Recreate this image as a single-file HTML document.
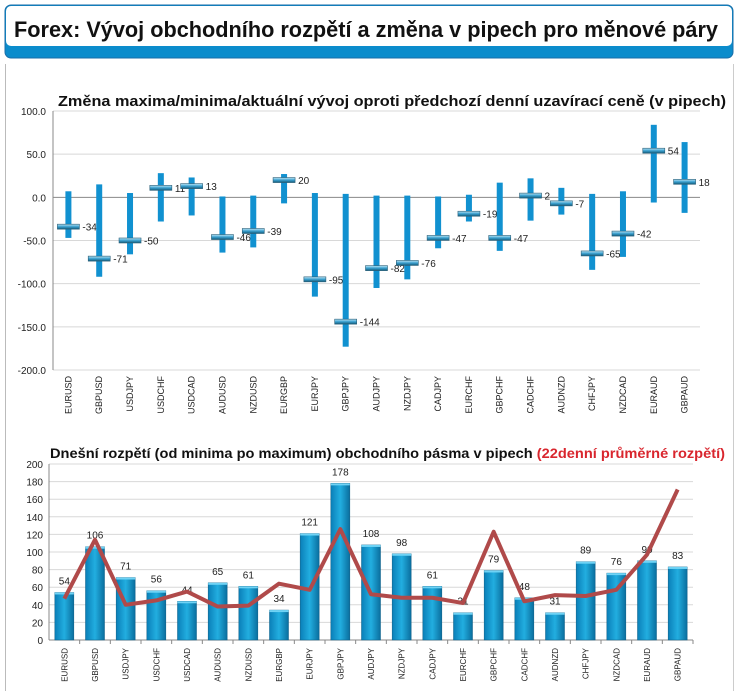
<!DOCTYPE html>
<html><head><meta charset="utf-8"><style>
body{margin:0;background:#fff;}
svg{display:block;font-family:"Liberation Sans",sans-serif;}
</style></head><body>
<svg id="c" width="736" height="691" viewBox="0 0 736 691">
<defs>
<linearGradient id="mk" x1="0" y1="0" x2="0" y2="1"><stop offset="0" stop-color="#bfe6f5"/><stop offset="0.5" stop-color="#3aa0cf"/><stop offset="1" stop-color="#145a78"/></linearGradient>
<linearGradient id="bg" x1="0" y1="0" x2="1" y2="0"><stop offset="0" stop-color="#0a7fb8"/><stop offset="0.5" stop-color="#22aee0"/><stop offset="1" stop-color="#0a6e9e"/></linearGradient>
</defs>
<g>
<rect x="5" y="5" width="728" height="53" rx="6" fill="#0b8ccc" stroke="#1a6ea8"/>
<rect x="6" y="6" width="726" height="40" rx="5" fill="#fff"/>
<text x="14" y="37" font-size="22" font-weight="bold" fill="#111" textLength="704" lengthAdjust="spacingAndGlyphs">Forex: Vývoj obchodního rozpětí a změna v pipech pro měnové páry</text>
</g>
<line x1="5.5" y1="64" x2="5.5" y2="691" stroke="#bbb"/>
<line x1="733.5" y1="64" x2="733.5" y2="691" stroke="#ccc"/>
<text x="58" y="106" font-size="14.5" font-weight="bold" fill="#111" textLength="668" lengthAdjust="spacingAndGlyphs">Změna maxima/minima/aktuální vývoj oproti předchozí denní uzavírací ceně (v pipech)</text>
<text x="50" y="458" font-size="14" font-weight="bold" fill="#111" textLength="675" lengthAdjust="spacingAndGlyphs">Dnešní rozpětí (od minima po maximum) obchodního pásma v pipech <tspan fill="#d9262e">(22denní průměrné rozpětí)</tspan></text>
<g id="top"></g>
<g id="bot"></g>
</svg>
<script>
const pairs=["EURUSD","GBPUSD","USDJPY","USDCHF","USDCAD","AUDUSD","NZDUSD","EURGBP","EURJPY","GBPJPY","AUDJPY","NZDJPY","CADJPY","EURCHF","GBPCHF","CADCHF","AUDNZD","CHFJPY","NZDCAD","EURAUD","GBPAUD"];
const highs=[7,15,5,28,23,1,2,27,5,4,2,2,1,3,17,22,11,4,7,84,64];
const lows=[-47,-92,-66,-28,-21,-64,-58,-7,-115,-173,-105,-95,-59,-28,-62,-27,-20,-84,-69,-6,-18];
const current=[-34,-71,-50,11,13,-46,-39,20,-95,-144,-82,-76,-47,-19,-47,2,-7,-65,-42,54,18];
const topTicks=[100,50,0,-50,-100,-150,-200];
const ranges=[54,106,71,56,44,65,61,34,121,178,108,98,61,31,79,48,31,89,76,90,83];
const avg22=[47,114,40,45,55,38,39,64,57,126,52,48,48,42,123,44,51,50,57,97,171];
const botTicks=[0,20,40,60,80,100,120,140,160,180,200];

const NS="http://www.w3.org/2000/svg";
function mk(p,tag,at,txt){const e=document.createElementNS(NS,tag);for(const k in at)e.setAttribute(k,at[k]);if(txt!==undefined)e.textContent=txt;p.appendChild(e);return e;}

// top chart
const T=document.getElementById('top');
const tL=53,tR=700,tTop=111,tBot=370;
const ty=v=>tTop+(100-v)*(tBot-tTop)/300;
const bw1=(tR-tL)/pairs.length;
const tx=i=>tL+bw1*(i+0.5);
topTicks.forEach(v=>{
 const g=mk(T,'line',{x1:tL,x2:tR,y1:ty(v),y2:ty(v),stroke:v===0?'#888':'#d8d8d8'});
 
 
 const t=mk(T,'text',{x:tL-7,y:ty(v)+4,'font-size':10,'text-anchor':'end',fill:'#222'},v.toFixed(1));
 
 
});
mk(T,'line',{x1:tL,x2:tL,y1:tTop,y2:tBot,stroke:'#888'});
pairs.forEach((p,i)=>{
 const x=tx(i);
 const r=mk(T,'rect',{x:x-3,y:ty(highs[i]),width:6,height:ty(lows[i])-ty(highs[i]),fill:'#1191d0'});
 
 
 const m=mk(T,'rect',{x:x-11,y:ty(current[i])-2.5,width:22,height:5,fill:'url(#mk)',stroke:'#2b5f78','stroke-width':0.6});
 
 
 const l=mk(T,'text',{x:x+14,y:ty(current[i])+4,'font-size':10,fill:'#222'},current[i]);
 
 
 const c=mk(T,'text',{x:0,y:0,'font-size':9,'text-anchor':'end',fill:'#222',transform:`translate(${x+3},376) rotate(-90)`},p);
 
 
});

// bottom chart
const B=document.getElementById('bot');
const bL=49,bR=693,bTop=464,bBot=640;
const by=v=>bBot-v*(bBot-bTop)/200;
const bw2=(bR-bL)/pairs.length;
const bx=i=>bL+bw2*(i+0.5);
botTicks.forEach(v=>{
 const g=mk(B,'line',{x1:bL,x2:bR,y1:by(v),y2:by(v),stroke:v===0?'#888':'#d8d8d8'});
 
 
 const t=mk(B,'text',{x:bL-6,y:by(v)+4,'font-size':10,'text-anchor':'end',fill:'#222'},v);
 
 
});
mk(B,'line',{x1:bL,x2:bL,y1:bTop,y2:bBot,stroke:'#888'});
pairs.forEach((p,i)=>{
 const x=bx(i);
 const r=mk(B,'rect',{x:x-9.5,y:by(ranges[i]),width:19,height:bBot-by(ranges[i]),fill:'url(#bg)',stroke:'#0a5c84','stroke-width':0.5});
 
 
 const cap=mk(B,'rect',{x:x-9.5,y:by(ranges[i]),width:19,height:2,fill:'#6fd3f5'});
 
 
 const l=mk(B,'text',{x:x,y:by(ranges[i])-8,'font-size':10,'text-anchor':'middle',fill:'#222'},ranges[i]);
 
 
 const tk=mk(B,'line',{x1:bL+bw2*(i+1),x2:bL+bw2*(i+1),y1:bBot,y2:bBot+4,stroke:'#888'});
 
 
 const c=mk(B,'text',{x:0,y:0,'font-size':8,'text-anchor':'end',fill:'#222',transform:`translate(${x+3},648) rotate(-90)`},p);
 
 
});
const pl=mk(B,'polyline',{points:avg22.map((v,i)=>bx(i)+','+by(v)).join(' '),fill:'none',stroke:'#b04a4a','stroke-width':4,'stroke-linejoin':'round'});


</script>
</body></html>
